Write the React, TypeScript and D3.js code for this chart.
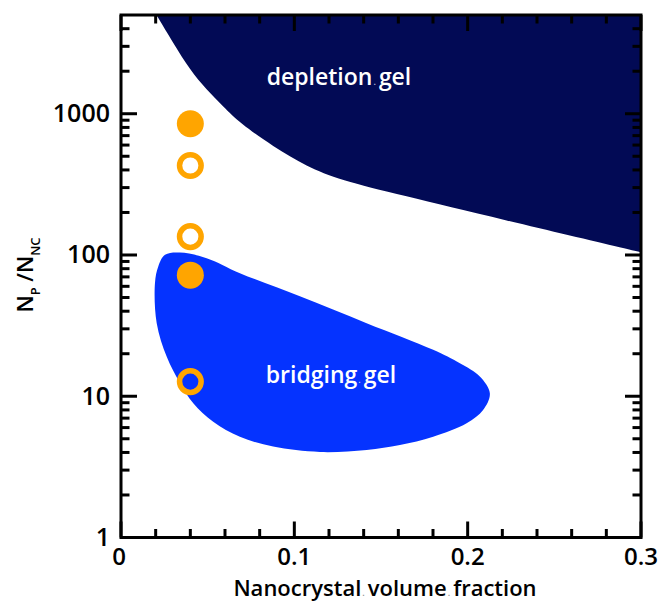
import React from 'react';
import * as d3 from 'd3';

// boundary of the depletion gel region (phi, Np/Nnc)
const depletionPhi = [0.0205, 0.0302, 0.0398, 0.0494, 0.059, 0.0686, 0.0878, 0.1071, 0.1263, 0.1609, 0.2186, 0.2993, 0.31];
const depletionRatio = [5000, 3162, 2046, 1477, 1125, 857, 586, 423, 340, 267, 180, 105, 98];

// outline of the bridging gel blob, clockwise from the left edge
const bridgingPhi = [0.0196, 0.0215, 0.0254, 0.034, 0.0494, 0.0686, 0.1032, 0.1417, 0.1801, 0.1955, 0.207, 0.2128, 0.2089, 0.1994, 0.1801, 0.1609, 0.1417, 0.1148, 0.0878, 0.0686, 0.0532, 0.0417, 0.034, 0.0264, 0.0206];
const bridgingRatio = [63.4, 82.8, 100.2, 104, 94.9, 74.3, 51.0, 32.9, 21.3, 17.1, 13.8, 10.5, 8.0, 6.44, 5.17, 4.52, 4.17, 4.03, 4.4, 5.17, 6.61, 8.92, 12.4, 19.0, 32.9];

// experiments
const samplePhi = [0.04, 0.04, 0.04, 0.04, 0.04];
const sampleRatio = [850, 430, 135, 72, 12.7];
const sampleGel = [true, false, false, true, false];

const xTicks = [0, 0.1, 0.2, 0.3];
const xTickLabels = ['0', '0.1', '0.2', '0.3'];
const yTicks = [1, 10, 100, 1000];
const yTickLabels = ['1', '10', '100', '1000'];

const W = 665, H = 601;
const FONT = '"Open Sans", "Noto Sans", sans-serif';

const Dot = ({ fill }: { fill: string }) => (
  <tspan fontSize={9} fill={fill} dx={1}>.</tspan>
);

const App = () => {
  const x = d3.scaleLinear().domain([0, 0.3]).range([121, 641]);
  const y = d3.scaleLog().domain([1, 5000]).range([537.5, 15]);

  const depl = depletionPhi.map((p, i) => [x(p), y(depletionRatio[i])] as [number, number]);
  const deplPath = d3.line().curve(d3.curveBasis)(depl) + `L${x(0.32)},${y(8000)}L${x(0.0205)},${y(8000)}Z`;

  const bridge = bridgingPhi.map((p, i) => [x(p), y(bridgingRatio[i])] as [number, number]);
  const bridgePath = d3.line().curve(d3.curveCatmullRomClosed.alpha(0.5))(bridge);

  const xMinor = d3.range(0.02, 0.3, 0.02).filter(v => Math.abs(v / 0.1 - Math.round(v / 0.1)) > 1e-6);
  const yMinor: number[] = [];
  [1, 10, 100, 1000].forEach(dec => {
    for (let k = 2; k <= 9; k++) if (dec * k < 5000) yMinor.push(dec * k);
  });

  const [x0, x1] = x.range();
  const [y0, y1] = y.range();
  const major = 16, minor = 8.5;

  return (
    <svg width={W} height={H} style={{ position: 'absolute', left: 0, top: 0 }} fontFamily={FONT}>
      <defs>
        <clipPath id="plot">
          <rect x={x0} y={y1} width={x1 - x0} height={y0 - y1} />
        </clipPath>
      </defs>
      <g clipPath="url(#plot)">
        <path d={deplPath} fill="#020a55" />
        <path d={bridgePath!} fill="#0533ff" />
      </g>

      <text x={339} y={85} fill="white" fontSize={23} fontWeight={600} textAnchor="middle">
        depletion<Dot fill="#c8c8e0" /><tspan dx={3}>gel</tspan>
      </text>
      <text x={331} y={383} fill="white" fontSize={23} fontWeight={600} textAnchor="middle">
        bridging<Dot fill="#c8c8f0" /><tspan dx={3}>gel</tspan>
      </text>

      {samplePhi.map((p, i) => (
        sampleGel[i]
          ? <circle key={i} cx={x(p)} cy={y(sampleRatio[i])} r={13.5} fill="#ffa500" />
          : <circle key={i} cx={x(p)} cy={y(sampleRatio[i])} r={10.8} fill="none" stroke="#ffa500" strokeWidth={5.5} />
      ))}

      <g stroke="black" strokeWidth={3}>
        {xTicks.map(t => (
          <g key={'xm' + t}>
            <line x1={x(t)} x2={x(t)} y1={y0} y2={y0 - major} />
            <line x1={x(t)} x2={x(t)} y1={y1} y2={y1 + major} />
          </g>
        ))}
        {xMinor.map(t => (
          <g key={'xn' + t}>
            <line x1={x(t)} x2={x(t)} y1={y0} y2={y0 - minor} />
            <line x1={x(t)} x2={x(t)} y1={y1} y2={y1 + minor} />
          </g>
        ))}
        {yTicks.map(t => (
          <g key={'ym' + t}>
            <line x1={x0} x2={x0 + major} y1={y(t)} y2={y(t)} />
            <line x1={x1} x2={x1 - major} y1={y(t)} y2={y(t)} />
          </g>
        ))}
        {yMinor.map(t => (
          <g key={'yn' + t}>
            <line x1={x0} x2={x0 + minor} y1={y(t)} y2={y(t)} />
            <line x1={x1} x2={x1 - minor} y1={y(t)} y2={y(t)} />
          </g>
        ))}
        <rect x={x0} y={y1} width={x1 - x0} height={y0 - y1} fill="none" />
      </g>

      {xTicks.map((t, i) => (
        <text key={'xl' + t} x={x(t) - (i === 0 ? 2 : 0)} y={565} fontSize={24} fontWeight={600} textAnchor="middle">
          {xTickLabels[i]}
        </text>
      ))}
      {yTicks.map((t, i) => (
        <text key={'yl' + t} x={110} y={y(t) + 8.5} fontSize={25} fontWeight={600} textAnchor="end">
          {yTickLabels[i]}
        </text>
      ))}

      <text x={385} y={596} fontSize={22} fontWeight={600} textAnchor="middle">
        Nanocrystal<Dot fill="#888" /><tspan dx={3}>volume</tspan><Dot fill="#888" /><tspan dx={3}>fraction</tspan>
      </text>

      <text transform={`translate(33,275) rotate(-90)`} fontSize={22} fontWeight={600} textAnchor="middle">
        N<tspan fontSize={13} dy={7}>P</tspan><tspan dy={-7}> /N</tspan><tspan fontSize={13} dy={7}>NC</tspan>
      </text>
    </svg>
  );
};

export default App;
